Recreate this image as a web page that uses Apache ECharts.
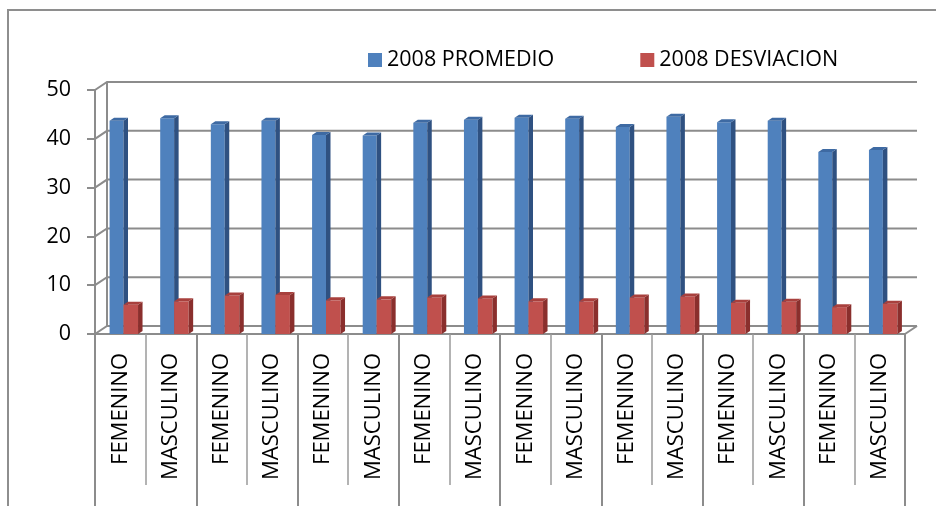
<!DOCTYPE html>
<html>
<head>
<meta charset="utf-8">
<script src="https://cdn.jsdelivr.net/npm/echarts@6/dist/echarts.min.js"></script>
<style>
html, body { margin: 0; padding: 0; background: #fff; overflow: hidden; }
#main { width: 936px; height: 506px; }
#frame { position: absolute; left: 7px; top: 9px; width: 929px; height: 497px; box-sizing: border-box;
  border-left: 2px solid #8e8e8e; border-top: 2px solid #8e8e8e; pointer-events: none; }
</style>
</head>
<body>
<div id="main"></div>
<div id="frame"></div>
<script>
// data
let categories = ['FEMENINO', 'MASCULINO', 'FEMENINO', 'MASCULINO', 'FEMENINO', 'MASCULINO', 'FEMENINO', 'MASCULINO',
                  'FEMENINO', 'MASCULINO', 'FEMENINO', 'MASCULINO', 'FEMENINO', 'MASCULINO', 'FEMENINO', 'MASCULINO'];
let groups = ['', '', '', '', '', '', '', ''];
let promedio = [43.7, 44.2, 43.0, 43.7, 40.8, 40.7, 43.3, 43.9, 44.3, 44.1, 42.4, 44.5, 43.4, 43.7, 37.3, 37.7];
let desviacion = [6.0, 6.7, 7.9, 8.0, 6.9, 7.1, 7.5, 7.3, 6.7, 6.7, 7.5, 7.7, 6.4, 6.6, 5.5, 6.2];
let yTicks = [0, 10, 20, 30, 40, 50];

let font = '"Open Sans", sans-serif';
let gray = '#8c8c8c';

// fake 3d column: front face, right side, top
function bar3d(front, side, top, f0, f1) {
  return function (params, api) {
    let i = api.value(0);
    let p = api.coord([i, api.value(1)]);
    let b = api.coord([i, 0]);
    let bw = api.size([1, 0])[0];
    let xa = p[0] + f0 * bw, xb = p[0] + f1 * bw;
    let yt = p[1], yb = b[1];
    let dx = 4.5, dy = 3;
    return {
      type: 'group',
      children: [
        { type: 'rect', shape: { x: xa, y: yt, width: xb - xa, height: yb - yt }, style: { fill: front } },
        { type: 'polygon', shape: { points: [[xb, yt], [xb + dx, yt - dy], [xb + dx, yb - dy], [xb, yb]] }, style: { fill: side } },
        { type: 'polygon', shape: { points: [[xa, yt], [xb, yt], [xb + dx, yt - dy], [xa + dx, yt - dy]] }, style: { fill: top } }
      ]
    };
  };
}

// back wall + floor of the 3d box
function wall(params, api) {
  let cs = params.coordSys;
  let dx = 12, dy = 8;
  let st = { stroke: gray, lineWidth: 2, fill: null };
  let kids = [];
  yTicks.forEach(function (t) {
    let y = api.coord([0, t])[1];
    kids.push({ type: 'polyline', shape: { points: [[cs.x, y], [cs.x + dx, y - dy], [cs.x + cs.width + dx, y - dy]] }, style: st });
  });
  let y0 = api.coord([0, 0])[1];
  let y1 = api.coord([0, 50])[1];
  kids.push({ type: 'line', shape: { x1: cs.x + dx, y1: y0 - dy, x2: cs.x + dx, y2: y1 - dy }, style: st });
  kids.push({ type: 'line', shape: { x1: cs.x + cs.width, y1: y0, x2: cs.x + cs.width + dx, y2: y0 - dy }, style: st });
  return { type: 'group', children: kids };
}

let myChart = echarts.init(document.getElementById('main'));

let option = {
  animation: false,
  legend: {
    data: ['2008 PROMEDIO', '2008 DESVIACION'],
    left: 363,
    top: 44,
    icon: 'rect',
    itemWidth: 14,
    itemHeight: 14,
    itemGap: 86,
    textStyle: { fontFamily: font, fontSize: 21.5, color: '#000' }
  },
  grid: { left: 95, right: 31, top: 90, bottom: 172, containLabel: false, outerBoundsMode: 'none' },
  xAxis: [{
    type: 'category',
    data: categories,
    axisLine: { lineStyle: { color: gray, width: 2 } },
    axisTick: { show: true, interval: 0, length: 151, lineStyle: { color: '#9a9a9a', width: 1.5 } },
    axisLabel: { interval: 0, rotate: 90, margin: 19, fontFamily: font, fontSize: 22, color: '#000' }
  }, {
    type: 'category',
    data: groups,
    position: 'bottom',
    axisLine: { show: false },
    axisTick: { show: true, interval: 0, length: 172, lineStyle: { color: gray, width: 2 } },
    axisLabel: { show: false }
  }],
  yAxis: {
    type: 'value',
    min: 0,
    max: 50,
    interval: 10,
    axisLine: { show: true, lineStyle: { color: gray, width: 2 } },
    axisTick: { show: true, length: 8, lineStyle: { color: gray, width: 2 } },
    splitLine: { show: false },
    axisLabel: { margin: 24, fontFamily: font, fontSize: 21.5, color: '#000' }
  },
  series: [{
    type: 'custom',
    name: 'wall',
    silent: true,
    clip: false,
    z: 1,
    data: [[0, 0]],
    renderItem: wall
  }, {
    type: 'custom',
    name: '2008 PROMEDIO',
    z: 2,
    clip: false,
    itemStyle: { color: '#4F81BD' },
    encode: { x: 0, y: 1 },
    data: promedio.map(function (v, i) { return [i, v]; }),
    renderItem: bar3d('#4F81BD', '#2F5181', '#3E6AA3', -0.212, 0.063)
  }, {
    type: 'custom',
    name: '2008 DESVIACION',
    z: 3,
    clip: false,
    itemStyle: { color: '#C0504D' },
    encode: { x: 0, y: 1 },
    data: desviacion.map(function (v, i) { return [i, v]; }),
    renderItem: bar3d('#C0504D', '#8A2F2D', '#A8403D', 0.063, 0.35)
  }]
};

myChart.setOption(option);
</script>
</body>
</html>
